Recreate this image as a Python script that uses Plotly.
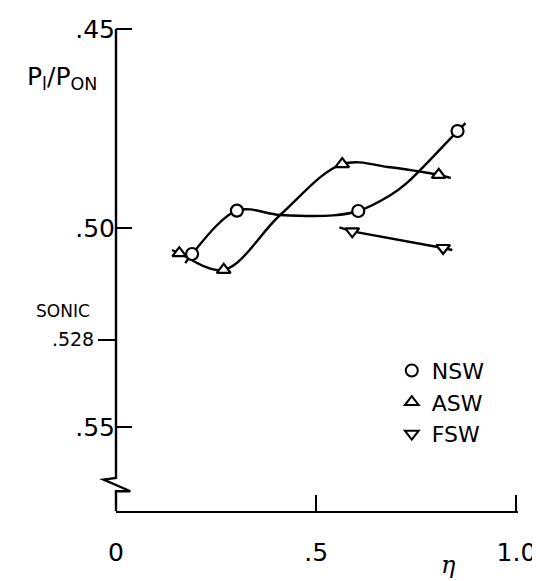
import plotly.graph_objects as go

# ---- data ----
NSW_eta = [0.190, 0.302, 0.605, 0.853]
NSW_p = [0.5065, 0.4956, 0.4957, 0.4756]
ASW_eta = [0.158, 0.269, 0.565, 0.806]
ASW_p = [0.5063, 0.5105, 0.4839, 0.4866]
FSW_eta = [0.590, 0.817]
FSW_p = [0.5008, 0.5050]

# faired curves (incl. tails)
NSW_curve_eta = [0.173, 0.190, 0.302, 0.410, 0.543, 0.605, 0.684, 0.726, 0.853, 0.873]
NSW_curve_p = [0.5088, 0.5065, 0.4956, 0.4967, 0.4968, 0.4957, 0.4918, 0.4887, 0.4756, 0.4736]
ASW_curve_eta = [0.140, 0.158, 0.269, 0.410, 0.565, 0.684, 0.759, 0.806, 0.836]
ASW_curve_p = [0.5055, 0.5063, 0.5105, 0.4967, 0.4839, 0.4847, 0.4858, 0.4866, 0.4874]
FSW_curve_eta = [0.558, 0.590, 0.817, 0.840]
FSW_curve_p = [0.4998, 0.5008, 0.5050, 0.5055]

y_ticks = [0.45, 0.50, 0.55]
y_ticktext = [".45", ".50", ".55"]
sonic_val = 0.528
x_ticks = [0, 0.5, 1.0]
x_ticktext = ["0", ".5", "1.0"]

FONT = "DejaVu Sans"
LW = 2.4

fig = go.Figure()

for ce, cp in [(NSW_curve_eta, NSW_curve_p), (ASW_curve_eta, ASW_curve_p)]:
    fig.add_trace(go.Scatter(x=ce, y=cp, mode="lines", line=dict(color="black", width=LW, shape="spline", smoothing=1.0),
                             showlegend=False, hoverinfo="skip"))
fig.add_trace(go.Scatter(x=FSW_curve_eta, y=FSW_curve_p, mode="lines", line=dict(color="black", width=LW),
                         showlegend=False, hoverinfo="skip"))

for name, ex, py, sym in [("NSW", NSW_eta, NSW_p, "circle"),
                          ("ASW", ASW_eta, ASW_p, "triangle-up"),
                          ("FSW", FSW_eta, FSW_p, "triangle-down")]:
    fig.add_trace(go.Scatter(x=ex, y=py, mode="markers", name=name,
                             marker=dict(symbol=sym, size=12, color="white",
                                         line=dict(color="black", width=2.2))))

rng = [0.5711, 0.4497]

fig.add_trace(go.Scatter(x=[0.5], y=[0.5], yaxis="y2", mode="markers",
                         marker=dict(opacity=0), showlegend=False, hoverinfo="skip"))

fig.update_layout(
    template="none",
    width=540, height=581,
    margin=dict(l=108, r=30, t=20, b=78, autoexpand=False),
    paper_bgcolor="white", plot_bgcolor="white",
    font=dict(family=FONT, color="black", size=25),
    xaxis=dict(range=[0, 1.004], tickvals=x_ticks, ticktext=x_ticktext, ticks="inside",
               ticklen=16, tickwidth=2, tickcolor="black", showline=True, linecolor="black",
               linewidth=LW, showgrid=False, zeroline=False, tickfont=dict(size=25),
               ticklabelstandoff=18, automargin=False),
    yaxis=dict(range=rng, tickvals=y_ticks, ticktext=y_ticktext, ticks="inside",
               ticklen=16, tickwidth=2, tickcolor="black", showline=False,
               showgrid=False, zeroline=False, tickfont=dict(size=25), automargin=False),
    yaxis2=dict(range=rng, overlaying="y", side="left", anchor="x",
                tickvals=[sonic_val], ticktext=[".528"], ticks="outside",
                ticklen=17, tickwidth=2, tickcolor="black", showline=False,
                showgrid=False, zeroline=False, tickfont=dict(size=19), automargin=False),
    legend=dict(x=0.686, y=0.334, xanchor="left", yanchor="top", bgcolor="rgba(0,0,0,0)",
                font=dict(size=22), itemsizing="constant", tracegroupgap=0, borderwidth=0),
    shapes=[dict(type="path", xref="paper", yref="paper",
                 path="M 0,0.998 L 0,0.0685 L -0.031,0.0649 L 0.0357,0.0409 L 0,0.0409 L 0,0",
                 line=dict(color="black", width=LW))],
    annotations=[
        dict(text="P<sub>l</sub>/P<sub>ON</sub>", xref="paper", yref="paper",
             x=(17 - 108) / 402, y=(503 - 70) / 483, xanchor="left", yanchor="middle",
             showarrow=False, font=dict(size=25)),
        dict(text="SONIC", xref="paper", yref="paper",
             x=(55 - 108) / 402, y=(503 - 303) / 483, xanchor="center", yanchor="middle",
             showarrow=False, font=dict(size=17)),
        dict(text="<i>η</i>", xref="paper", yref="paper",
             x=(440 - 108) / 402, y=(503 - 557) / 483, xanchor="center", yanchor="middle",
             showarrow=False, font=dict(size=24, family="DejaVu Serif")),
    ],
)

fig.write_html("out.html")
